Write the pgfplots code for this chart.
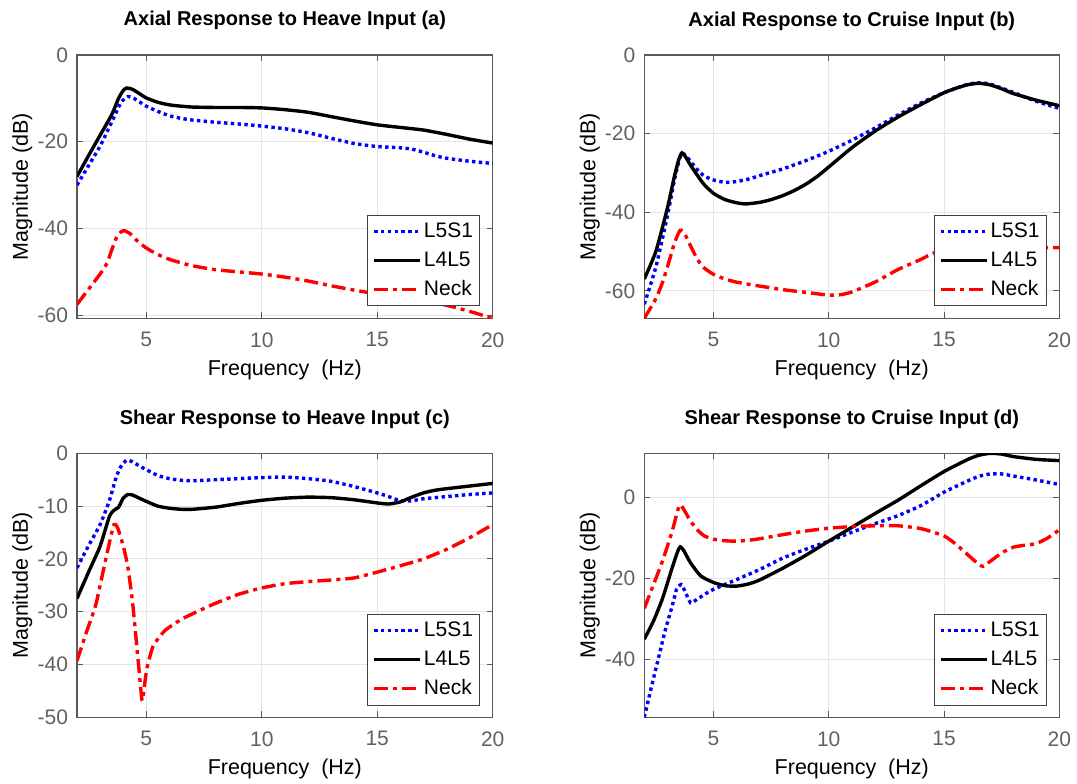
\documentclass[border=0pt]{standalone}
\usepackage{fontspec}
\setmainfont{Liberation Sans}
\usepackage{pgfplots}
\pgfplotsset{compat=1.18}
\pgfplotsset{
 myax/.style={
  scale only axis,
  xmin=2, xmax=20, xtick={5,10,15,20},
  grid=major, major grid style={draw=black!10, line width=0.5pt},
  axis line style={draw=black!65, line width=0.6pt},
  tick style={draw=black!65, line width=0.5pt},
  tick align=inside, major tick length=3pt,
  /pgf/number format/assume math mode=true,
  ticklabel style={font=\fontsize{10.5}{12}\selectfont, text=black!62},
  xticklabel style={yshift=-3.5pt},
  yticklabel style={xshift=-1pt},
  label style={font=\fontsize{10.75}{12}\selectfont},
  xlabel={Frequency\ \ (Hz)},
  ylabel={Magnitude (dB)},
  xlabel style={at={(axis description cs:0.5,0)}, anchor=base, yshift=-28.7pt},
  ylabel style={at={(axis description cs:-0.118,0.5)}, anchor=base},
  title style={at={(axis description cs:0.5,1)}, anchor=base, yshift=8.5pt, font=\bfseries\fontsize{10}{12}\selectfont},
  legend cell align=left,
  legend image code/.code={\draw[##1] (0pt,0pt) -- (23pt,0pt);},
  legend style={at={(axis description cs:1,0)}, anchor=south east, xshift=-6.2pt, yshift=5.9pt,
    draw=black!75, line width=0.5pt, fill=white, inner xsep=2.4pt, inner ysep=3.4pt, row sep=5pt,
    font=\fontsize{10.5}{12}\selectfont,
    nodes={inner xsep=1pt, inner ysep=0pt, text height=7.5pt, text depth=2pt}},
 },
 l5/.style={blue, line width=1.7pt, dash pattern=on 1.7pt off 1.7pt, smooth, tension=0.35},
 l4/.style={black, line width=1.7pt, solid, smooth, tension=0.35},
 nk/.style={red, line width=1.7pt, dash pattern=on 7pt off 2.5pt on 2pt off 2.5pt, smooth, tension=0.35},
}
\begin{document}
\begin{tikzpicture}
% (a)
\begin{axis}[myax, at={(38.5pt,232.35pt)}, anchor=south west, width=207.85pt, height=131.65pt,
  ymin=-60.7, ymax=0, ytick={-60,-40,-20,0},
  title={Axial Response to Heave Input (a)}]
\addplot[l5] coordinates {(2,-30) (2.5,-25.5) (3,-21) (3.5,-15.5) (3.9,-11) (4.2,-9.6) (4.5,-10.1) (5,-11.8) (5.5,-13) (6,-14) (6.5,-14.6) (7,-15) (8,-15.5) (9,-15.9) (10,-16.4) (11,-17) (12,-17.9) (13,-19.2) (14,-20.4) (15,-21.1) (16,-21.4) (16.5,-21.7) (17,-22.4) (17.5,-23.2) (18,-23.8) (19,-24.5) (20,-25)};
\addlegendentry{L5S1}
\addplot[l4] coordinates {(2,-28) (2.5,-23.2) (3,-18.5) (3.5,-13.8) (3.8,-10) (4.0,-8.2) (4.15,-7.6) (4.4,-7.9) (4.7,-8.9) (5,-9.9) (5.5,-10.9) (6,-11.5) (6.5,-11.8) (7,-12) (8,-12.1) (9,-12.1) (10,-12.2) (11,-12.6) (12,-13.2) (13,-14.2) (14,-15.2) (15,-16.1) (16,-16.7) (17,-17.3) (18,-18.3) (19,-19.4) (20,-20.3)};
\addlegendentry{L4L5}
\addplot[nk] coordinates {(2,-57.5) (2.5,-54) (3,-50.5) (3.3,-48) (3.5,-45) (3.7,-42.2) (3.9,-40.8) (4.05,-40.5) (4.3,-41.2) (4.6,-42.8) (5,-44.5) (5.5,-46) (6,-47.1) (6.5,-47.9) (7,-48.6) (8,-49.5) (9,-50) (10,-50.5) (11,-51.2) (12,-52.1) (13,-53.2) (14,-54.2) (15,-55.1) (16,-55.9) (17,-56.7) (18,-57.7) (19,-59.1) (20,-60.7)};
\addlegendentry{Neck}
\end{axis}
% (b)
\begin{axis}[myax, at={(322.15pt,232.35pt)}, anchor=south west, width=207.5pt, height=131.65pt,
  ymin=-67, ymax=0, ytick={-60,-40,-20,0},
  title={Axial Response to Cruise Input (b)}]
\addplot[l5] coordinates {(2,-63.4) (2.5,-54) (3,-41) (3.3,-32) (3.5,-27) (3.63,-25) (3.8,-25.6) (4,-27) (4.3,-29.2) (4.6,-30.8) (5,-31.8) (5.5,-32.4) (6,-32.2) (6.5,-31.6) (7,-30.7) (8,-29) (9,-26.9) (10,-24.5) (11,-21.7) (12,-18.6) (13,-15.3) (14,-12.2) (15,-9.6) (16,-7.5) (16.5,-7.1) (17,-7.4) (18,-9.5) (19,-11.8) (20,-13.6)};
\addlegendentry{L5S1}
\addplot[l4] coordinates {(2,-57) (2.5,-50) (3,-39) (3.3,-31) (3.5,-26.5) (3.63,-24.9) (3.8,-26) (4,-28) (4.3,-30.6) (4.6,-33) (5,-35.2) (5.5,-36.8) (6,-37.6) (6.4,-37.9) (7,-37.5) (7.5,-36.8) (8,-35.8) (8.5,-34.5) (9,-32.9) (9.5,-30.9) (10,-28.5) (11,-23.6) (12,-19.4) (13,-15.8) (14,-12.6) (15,-9.6) (15.5,-8.5) (16,-7.6) (16.5,-7.2) (17,-7.6) (17.5,-8.6) (18,-9.8) (19,-11.5) (20,-12.9)};
\addlegendentry{L4L5}
\addplot[nk] coordinates {(2,-67) (2.5,-62) (2.8,-57.7) (3.1,-52) (3.3,-48) (3.55,-44.6) (3.75,-45.5) (4,-48.5) (4.3,-52) (4.6,-54.2) (5,-55.8) (5.5,-57) (6,-57.8) (7,-58.8) (8,-59.7) (9,-60.4) (10,-61.1) (10.5,-61) (11,-60.3) (12,-57.8) (13,-54.6) (14,-52) (14.6,-50.3) (15.5,-49.5) (16.5,-49.1) (18,-49) (20,-49)};
\addlegendentry{Neck}
\end{axis}
% (c)
\begin{axis}[myax, at={(38.5pt,32.85pt)}, anchor=south west, width=207.85pt, height=132pt,
  ymin=-50, ymax=0, ytick={-50,-40,-30,-20,-10,0},
  title={Shear Response to Heave Input (c)}]
\addplot[l5] coordinates {(2,-21.7) (2.5,-17.5) (3,-13.5) (3.4,-9) (3.7,-4.5) (3.9,-2.5) (4.15,-1.3) (4.4,-1.6) (4.7,-2.4) (5,-3.1) (5.5,-4.2) (6,-4.8) (6.5,-5.1) (7,-5.2) (8,-5) (9,-4.8) (10,-4.6) (11,-4.5) (12,-4.8) (13,-5.3) (14,-6.3) (15,-7.5) (15.5,-8.2) (16,-9) (16.5,-9) (17,-8.6) (18,-8.2) (19,-7.8) (20,-7.5)};
\addlegendentry{L5S1}
\addplot[l4] coordinates {(2,-27.5) (2.5,-22.5) (3,-17.6) (3.4,-12) (3.6,-10.8) (3.8,-10.2) (4,-8.5) (4.2,-7.8) (4.4,-7.9) (4.7,-8.5) (5,-9.1) (5.5,-10) (6,-10.4) (6.5,-10.6) (7,-10.6) (8,-10.2) (9,-9.5) (10,-8.9) (11,-8.5) (12,-8.3) (13,-8.4) (14,-8.8) (15,-9.4) (15.5,-9.6) (16,-9.2) (16.5,-8.3) (17,-7.5) (17.5,-7) (18,-6.7) (19,-6.2) (20,-5.7)};
\addlegendentry{L4L5}
\addplot[nk] coordinates {(2,-39.3) (2.4,-34) (2.8,-28.9) (3.1,-23) (3.4,-17) (3.6,-13.5) (3.75,-14) (4,-17.5) (4.2,-21.5) (4.4,-28) (4.6,-37) (4.8,-46.3) (4.85,-46.5) (4.95,-43) (5.05,-40.3) (5.3,-36.5) (5.8,-33.6) (6.5,-31.5) (7,-30.4) (8,-28.4) (9,-26.7) (10,-25.5) (11,-24.7) (12,-24.3) (13,-24) (14,-23.6) (15,-22.5) (16,-21.3) (17,-20) (18,-18.2) (19,-16) (20,-13.5)};
\addlegendentry{Neck}
\end{axis}
% (d)
\begin{axis}[myax, at={(322.15pt,32.85pt)}, anchor=south west, width=207.5pt, height=132pt,
  ymin=-54.3, ymax=10.9, ytick={-40,-20,0},
  title={Shear Response to Cruise Input (d)}]
\addplot[l5] coordinates {(2,-54.3) (2.3,-47) (2.6,-40) (2.9,-33) (3.2,-27) (3.4,-22.7) (3.6,-21.5) (3.75,-23) (4,-26) (4.2,-25.5) (4.6,-24) (5,-22.7) (6,-20.3) (7,-17.8) (8,-15) (9,-12.8) (10,-10.8) (11,-8.6) (12,-6.5) (13,-4.5) (14,-2) (15,1.3) (16,4) (16.5,5.2) (17,5.8) (17.5,5.8) (18,5.3) (19,4.3) (20,3.2)};
\addlegendentry{L5S1}
\addplot[l4] coordinates {(2,-35) (2.4,-30.5) (2.8,-24.8) (3.2,-17.5) (3.45,-13.3) (3.56,-12.2) (3.7,-13) (4,-16.1) (4.45,-19.4) (5,-21) (5.5,-21.8) (6,-21.9) (6.5,-21.4) (7,-20.4) (8,-17.5) (9,-14.3) (10,-10.8) (11,-7.4) (12,-4) (13,-0.7) (14,2.9) (15,6.4) (16,9.3) (16.5,10.4) (17,10.9) (17.5,10.7) (18,10.1) (19,9.4) (20,9.1)};
\addlegendentry{L4L5}
\addplot[nk] coordinates {(2,-27.4) (2.4,-21.5) (2.8,-15.5) (3.2,-8.5) (3.5,-2.2) (3.6,-2) (3.8,-3.8) (4,-5.8) (4.3,-8) (4.6,-9.5) (5,-10.3) (5.5,-10.7) (6,-10.8) (6.5,-10.6) (7,-10.2) (8,-9.2) (9,-8.3) (10,-7.6) (11,-7.2) (12,-7) (13,-7) (14,-7.7) (15,-9.5) (15.5,-11.5) (16,-14) (16.5,-16.5) (16.7,-17) (17,-15.8) (17.5,-13.7) (18,-12.3) (18.5,-11.8) (19,-11.4) (19.5,-10) (20,-8)};
\addlegendentry{Neck}
\end{axis}
\pgfresetboundingbox
\path (0pt,0pt) rectangle (538.5pt,391.5pt);
\end{tikzpicture}
\end{document}
